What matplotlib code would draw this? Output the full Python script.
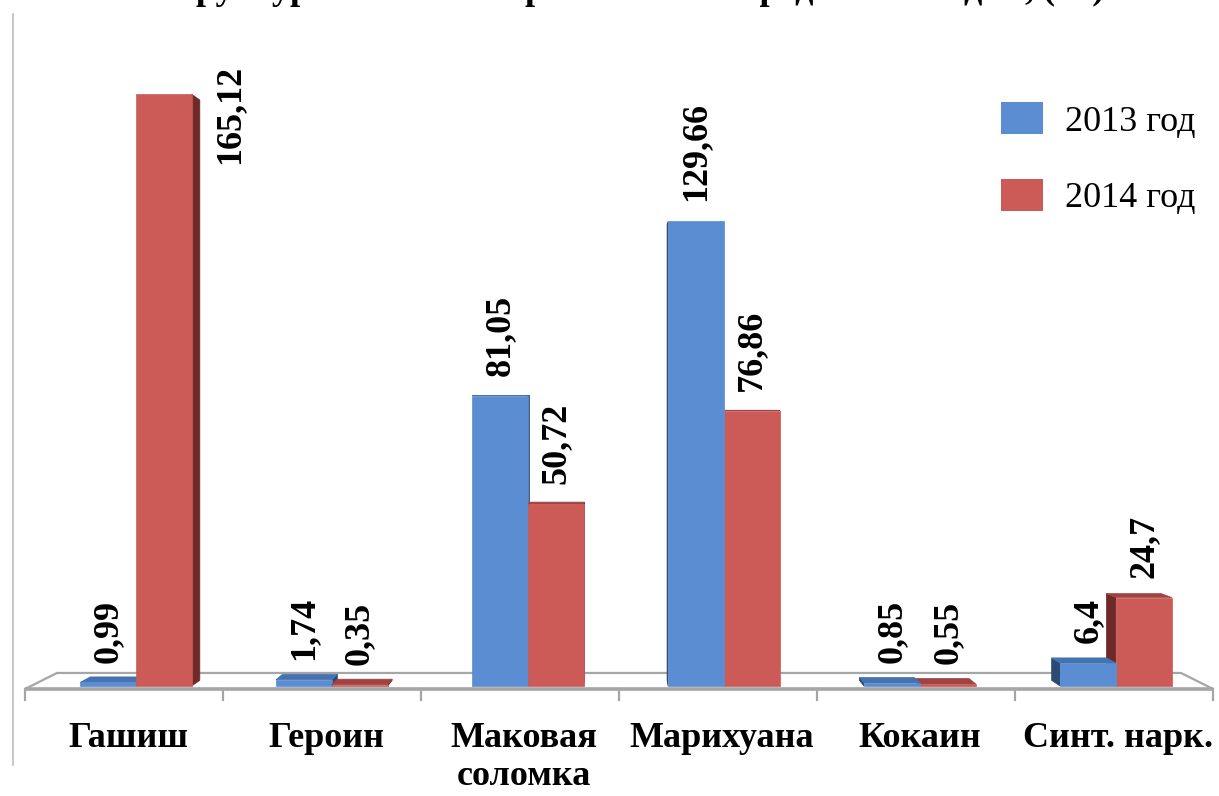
import matplotlib
matplotlib.use('Agg')
import matplotlib.pyplot as plt
from matplotlib.patches import Polygon, Patch
from matplotlib.lines import Line2D

plt.rcParams['font.family'] = ['Liberation Serif', 'DejaVu Serif']

# data
categories = ['Гашиш', 'Героин', 'Маковая\nсоломка', 'Марихуана', 'Кокаин', 'Синт. нарк.']
years = ['2013 год', '2014 год']
v2013 = [0.99, 1.74, 81.05, 129.66, 0.85, 6.4]
v2014 = [165.12, 0.35, 50.72, 76.86, 0.55, 24.7]
title = 'Структура изъятых наркотических средств по видам, (кг)'

# colours: front, side, top
colors = {
    '2013 год': ('#5A8DD2', '#2A4A72', '#4673B0'),
    '2014 год': ('#CC5A57', '#6E2A28', '#A04442'),
}

# simple perspective "3d" look (eye in the middle of the floor)
XC, YE = 2.5, 82.0
S_FRONT, S_BACK, S_FLOOR = 0.99, 0.971, 0.946
BAR_W, SHIFT = 0.285, 0.035


def proj(x, y, s):
    return (XC + (x - XC) * s, YE + (y - YE) * s)


fig = plt.figure(figsize=(12.19, 7.96), dpi=100)
ax = fig.add_axes([0, 0, 1, 1])
ax.set_xlim(-0.626, 5.53)
ax.set_ylim(-29.56, 190.33)
ax.axis('off')

# frame line on the left
fig.add_artist(Line2D([13 / 1219, 13 / 1219], [1 - 14 / 796, 1 - 765 / 796],
                      color='#BFBFBF', lw=1.2))

# floor
n = len(categories)
floor = [proj(-0.5, 0, 1), proj(n - 0.5, 0, 1),
         proj(n - 0.5, 0, S_FLOOR), proj(-0.5, 0, S_FLOOR)]
ax.add_patch(Polygon(floor, closed=True, facecolor='white', edgecolor='#A6A6A6',
                     lw=1.6, zorder=1))
ax.plot([-0.5, n - 0.5], [0, 0], color='#A6A6A6', lw=2.6, zorder=1.5,
        solid_capstyle='butt')
for i in range(n + 1):
    ax.plot([i - 0.5, i - 0.5], [0, -3.0], color='#A6A6A6', lw=1.6, zorder=1.5)

# bars
bars = []
for i in range(n):
    for j, (yr, vals) in enumerate(zip(years, [v2013, v2014])):
        x0 = i + SHIFT + (j - 1) * BAR_W
        bars.append((x0, x0 + BAR_W, vals[i], yr))
bars.sort(key=lambda b: -abs((b[0] + b[1]) / 2 - XC))

for k, (x0, x1, v, yr) in enumerate(bars):
    front, side, top = colors[yr]
    z = 2 + k * 0.1
    if x1 < XC:
        pts = [proj(x1, 0, S_FRONT), proj(x1, 0, S_BACK), proj(x1, v, S_BACK), proj(x1, v, S_FRONT)]
        ax.add_patch(Polygon(pts, facecolor=side, edgecolor=side, lw=0.5, zorder=z))
    if x0 > XC:
        pts = [proj(x0, 0, S_FRONT), proj(x0, 0, S_BACK), proj(x0, v, S_BACK), proj(x0, v, S_FRONT)]
        ax.add_patch(Polygon(pts, facecolor=side, edgecolor=side, lw=0.5, zorder=z))
    if v < YE:
        pts = [proj(x0, v, S_FRONT), proj(x1, v, S_FRONT), proj(x1, v, S_BACK), proj(x0, v, S_BACK)]
        ax.add_patch(Polygon(pts, facecolor=top, edgecolor=top, lw=0.5, zorder=z))
    pts = [proj(x0, 0, S_FRONT), proj(x1, 0, S_FRONT), proj(x1, v, S_FRONT), proj(x0, v, S_FRONT)]
    ax.add_patch(Polygon(pts, facecolor=front, edgecolor=front, lw=0.5, zorder=z + 0.05))

    # value label
    lab = f'{v:g}'.replace('.', ',')
    cx, ty = proj((x0 + x1) / 2, v, S_FRONT)
    if ty + 5.5 + 27 > ax.get_ylim()[1]:
        rx = proj(x1, v, S_FRONT)[0]
        ax.text(rx + 0.19, ty + 8.0, lab, rotation=90, ha='center', va='top',
                fontsize=26, fontweight='bold', zorder=10)
    else:
        ax.text(cx, ty + 5.5, lab, rotation=90, ha='center', va='bottom',
                fontsize=26, fontweight='bold', zorder=10)

# category labels
for i, c in enumerate(categories):
    ax.text(i + 0.02, -9.0, c, ha='center', va='top', fontsize=26,
            fontweight='bold', linespacing=1.2)

# legend
handles = [Patch(facecolor=colors[y][0], edgecolor='none', label=y) for y in years]
ax.legend(handles=handles, loc='upper left', frameon=False,
          bbox_to_anchor=(1001 / 1219, 1 - 102 / 796), bbox_transform=fig.transFigure,
          fontsize=26, handlelength=1.17, handleheight=1.0, handletextpad=0.6,
          labelspacing=1.12, borderpad=0, borderaxespad=0)

# title (cut off at the top like the source picture)
fig.text(0.515, 1 + 1 / 796, title, ha='center', va='baseline',
         fontsize=26, fontweight='bold')

fig.savefig('out.png', dpi=100)
